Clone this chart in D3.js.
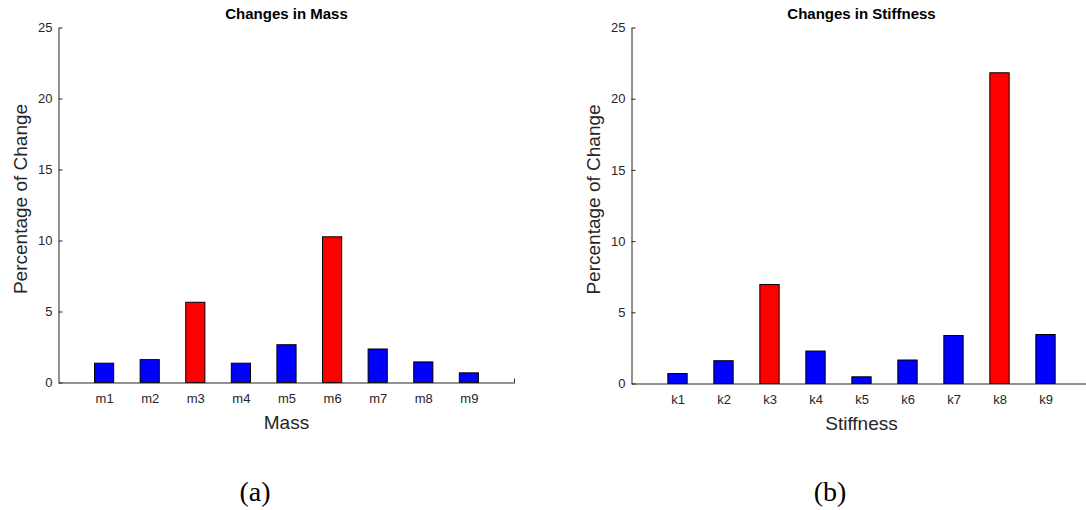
<!DOCTYPE html>
<html>
<head>
<meta charset="utf-8">
<script src="https://cdn.jsdelivr.net/npm/d3@7/dist/d3.min.js"></script>
<style>
  html, body { margin: 0; padding: 0; background: #fff; }
  svg { display: block; }
  .tick text { font-family: "Liberation Sans", Arial, sans-serif; font-size: 13px; fill: #262626; }
  .domain, .tick line { stroke: #262626; }
</style>
</head>
<body>
<svg id="chart" width="1086" height="510"></svg>
<script>
// Percentage change identified for each mass and stiffness parameter
const massCategories = ["m1", "m2", "m3", "m4", "m5", "m6", "m7", "m8", "m9"];
const massValues = [1.36, 1.61, 5.65, 1.36, 2.66, 10.26, 2.36, 1.45, 0.68];
const massDamaged = ["m3", "m6"];

const stiffnessCategories = ["k1", "k2", "k3", "k4", "k5", "k6", "k7", "k8", "k9"];
const stiffnessValues = [0.70, 1.60, 6.95, 2.28, 0.47, 1.65, 3.37, 21.82, 3.44];
const stiffnessDamaged = ["k3", "k8"];

const yTicks = [0, 5, 10, 15, 20, 25];

const svg = d3.select("#chart");
const sans = "'Liberation Sans', Arial, sans-serif";

function drawPanel(opts) {
  const { categories, values, damaged, title, xLabel, caption,
          left, right, top, bottom, endTick, labelX } = opts;

  const x = d3.scaleLinear().domain([0, categories.length + 1]).range([left, right]);
  const y = d3.scaleLinear().domain([0, 25]).range([bottom, top]);
  const step = x(1) - x(0);
  const barW = step * 0.42;

  const g = svg.append("g");

  // bars
  g.selectAll("rect.bar")
    .data(categories.map((c, i) => ({ c, v: values[i], i })))
    .join("rect")
    .attr("class", "bar")
    .attr("x", d => x(d.i + 1) - barW / 2)
    .attr("width", barW)
    .attr("y", d => y(d.v))
    .attr("height", d => y(0) - y(d.v))
    .attr("fill", d => damaged.includes(d.c) ? "#ff0000" : "#0000ff")
    .attr("stroke", "#000")
    .attr("stroke-width", 1);

  // y axis with inward ticks
  const yAxis = d3.axisLeft(y).tickValues(yTicks).tickSizeInner(-4).tickSizeOuter(0).tickPadding(6);
  g.append("g").attr("transform", `translate(${left},0)`).call(yAxis);

  // x axis: category labels, no tick marks
  const xAxis = d3.axisBottom(x)
    .tickValues(d3.range(1, categories.length + 1))
    .tickFormat(i => categories[i - 1])
    .tickSize(0).tickPadding(11);
  const xg = g.append("g").attr("transform", `translate(0,${bottom})`).call(xAxis);
  xg.selectAll(".tick line").remove();
  if (endTick) {
    g.append("line")
      .attr("x1", right).attr("x2", right)
      .attr("y1", bottom).attr("y2", bottom - 4)
      .attr("stroke", "#262626");
  }

  const cx = (left + right) / 2;

  g.append("text")
    .attr("x", cx).attr("y", 19)
    .attr("text-anchor", "middle")
    .attr("font-family", sans).attr("font-weight", "bold").attr("font-size", 15)
    .attr("fill", "#000")
    .text(title);

  g.append("text")
    .attr("x", cx).attr("y", bottom + 46)
    .attr("text-anchor", "middle")
    .attr("font-family", sans).attr("font-size", 19)
    .attr("fill", "#262626")
    .text(xLabel);

  g.append("text")
    .attr("transform", `translate(${labelX},${(top + bottom) / 2 - 6}) rotate(-90)`)
    .attr("text-anchor", "middle")
    .attr("font-family", sans).attr("font-size", 19)
    .attr("fill", "#262626")
    .text("Percentage of Change");

  g.append("text")
    .attr("x", opts.captionX).attr("y", 501)
    .attr("text-anchor", "middle")
    .attr("font-family", "'Liberation Serif', 'Times New Roman', serif").attr("font-size", 28)
    .attr("fill", "#000")
    .text(caption);
}

drawPanel({
  categories: massCategories, values: massValues, damaged: massDamaged,
  title: "Changes in Mass", xLabel: "Mass", caption: "(a)",
  left: 58.5, right: 514.5, top: 27.5, bottom: 382.5, endTick: true,
  labelX: 27, captionX: 255
});

drawPanel({
  categories: stiffnessCategories, values: stiffnessValues, damaged: stiffnessDamaged,
  title: "Changes in Stiffness", xLabel: "Stiffness", caption: "(b)",
  left: 631.5, right: 1091.5, top: 27.5, bottom: 383.5, endTick: false,
  labelX: 600, captionX: 830
});
</script>
</body>
</html>
